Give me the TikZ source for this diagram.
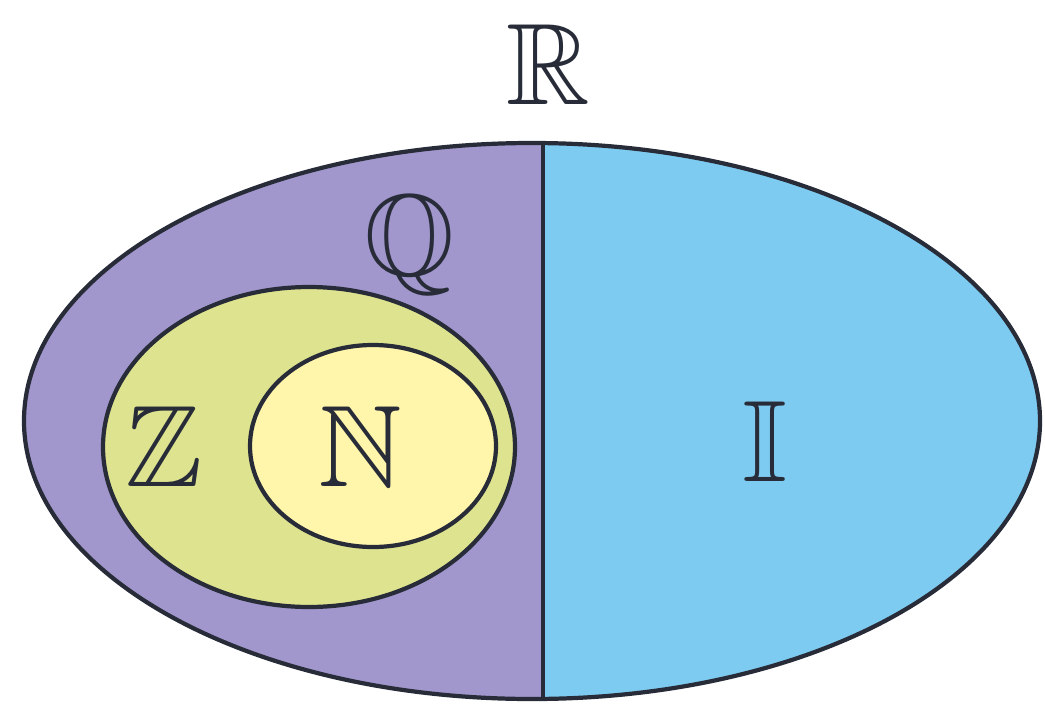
\documentclass[tikz,border=0pt]{standalone}
\usepackage{amsmath}
\usepackage{amssymb}
\definecolor{setline}{RGB}{40,44,56}
\definecolor{ratfill}{RGB}{161,151,205}
\definecolor{irrfill}{RGB}{126,203,241}
\definecolor{intfill}{RGB}{221,227,142}
\definecolor{natfill}{RGB}{255,246,172}

\begin{document}
\begin{tikzpicture}
\tikzset{
  set line/.style={draw=setline, line width=2.4pt},
  set label/.style={font=\fontsize{66}{72}\selectfont, inner sep=0pt, text=setline},
}
\useasboundingbox (0,0) rectangle (20.9,14.1);
\begin{scope}
\clip (10.64,5.68) ellipse [x radius=10.16, y radius=5.56];
\fill[ratfill] (0,0) rectangle (10.86,14.1);
\fill[irrfill] (10.86,0) rectangle (20.9,14.1);
\coordinate (cutlo) at (10.86,0);
\coordinate (cuthi) at (10.86,14.1);
\draw[set line] (cutlo) -- (cuthi);
\end{scope}
\draw[set line] (10.64,5.68) ellipse [x radius=10.16, y radius=5.56];
\filldraw[set line, fill=intfill] (6.18,5.16) ellipse [x radius=4.12, y radius=3.2];
\filldraw[set line, fill=natfill] (7.46,5.18) ellipse [x radius=2.46, y radius=2.02];
\node[set label] (R) at (10.96,12.8) {$\mathbb{R}$};
\node[set label] (Q) at (8.2,9.2) {$\mathbb{Q}$};
\node[set label] (Z) at (3.28,5.16) {$\mathbb{Z}$};
\node[set label] (N) at (7.2,5.16) {$\mathbb{N}$};
\node[set label] (I) at (15.3,5.26) {$\mathbb{I}$};
\end{tikzpicture}
\end{document}
